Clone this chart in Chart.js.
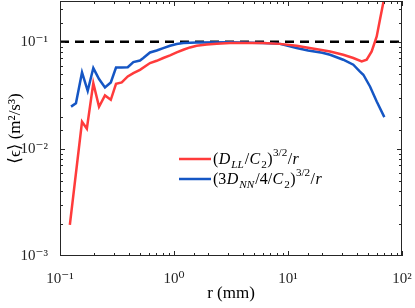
<!DOCTYPE html>
<html>
<head>
<meta charset="utf-8">
<script src="https://cdn.jsdelivr.net/npm/chart.js@4/dist/chart.umd.min.js"></script>
<style>
  html, body { margin: 0; padding: 0; background: #fff; }
  #wrap { width: 415px; height: 308px; position: relative; }
</style>
</head>
<body>
<div id="wrap"><canvas id="myChart"></canvas></div>
<script>
// r (mm) and <eps>
const rLL = [0.122, 0.156, 0.172, 0.196, 0.220, 0.248, 0.279, 0.310, 0.348, 0.393, 0.44, 0.503,
    0.616, 0.705, 0.805, 0.923, 1.056, 1.207, 1.38, 1.58, 1.94, 2.37, 3.1, 4.5, 6.0, 8.5,
    11.9, 15, 19.1, 23.4, 30.5, 37.4, 44.3, 49, 54.2, 60, 64.1, 71];
const epsLL = [0.00195, 0.0179, 0.0154, 0.0411, 0.0247, 0.0315, 0.0287, 0.0405, 0.0417, 0.0474, 0.051, 0.0547,
    0.0632, 0.0664, 0.0705, 0.0745, 0.0794, 0.0842, 0.0885, 0.0918, 0.0944, 0.0958, 0.0972, 0.0975, 0.0972, 0.0955,
    0.0918, 0.088, 0.0842, 0.0812, 0.0756, 0.0705, 0.0655, 0.0679, 0.0812, 0.112, 0.161, 0.28];

const rNN = [0.125, 0.138, 0.156, 0.175, 0.196, 0.220, 0.248, 0.279, 0.310, 0.348, 0.393, 0.44, 0.503,
    0.538, 0.616, 0.705, 0.805, 0.923, 1.056, 1.207, 1.58, 3.1, 6.0, 8.5,
    11.9, 15, 20, 23.4, 30.5, 37.4, 42.8, 45.8, 52.4, 60, 70];
const epsNN = [0.0248, 0.0267, 0.0517, 0.0348, 0.0568, 0.0448, 0.0374, 0.0417, 0.0575, 0.0575, 0.0578, 0.0646, 0.0668,
    0.0705, 0.0794, 0.0829, 0.0873, 0.0918, 0.0952, 0.0972, 0.0985, 0.0988, 0.0975, 0.0955,
    0.0873, 0.083, 0.079, 0.0756, 0.0679, 0.061, 0.0527, 0.0492, 0.0382, 0.0277, 0.0198];

const refLevel = 0.1;
const xRange = [0.1, 100];
const yRange = [0.001, 0.24];

const SERIF = "'Liberation Serif', 'DejaVu Serif', serif";
const supMap = {'-': '\u207B', '0': '\u2070', '1': '\u00B9', '2': '\u00B2', '3': '\u00B3'};

function powLabel(value) {
    const e = Math.log10(value);
    const n = Math.round(e);
    if (Math.abs(e - n) > 1e-6) return '';
    return '10' + String(n).split('').map(c => supMap[c] || c).join('');
}

function toPoints(xs, ys) {
    return xs.map((x, i) => ({x: x, y: ys[i]}));
}

// box with inward ticks, MATLAB style
const boxTicks = {
    id: 'boxTicks',
    afterDraw(chart) {
        const {ctx, chartArea: a, scales} = chart;
        ctx.save();
        ctx.strokeStyle = '#262626';
        ctx.lineWidth = 1;
        ctx.strokeRect(a.left + 0.5, a.top + 0.5, a.right - a.left - 1, a.bottom - a.top - 1);
        for (const t of scales.x.ticks) {
            const px = Math.round(scales.x.getPixelForValue(t.value)) + 0.5;
            const len = powLabel(t.value) ? 5 : 3;
            ctx.beginPath();
            ctx.moveTo(px, a.bottom); ctx.lineTo(px, a.bottom - len);
            ctx.moveTo(px, a.top); ctx.lineTo(px, a.top + len);
            ctx.stroke();
        }
        for (const t of scales.y.ticks) {
            const py = Math.round(scales.y.getPixelForValue(t.value)) + 0.5;
            if (py < a.top || py > a.bottom) continue;
            const len = powLabel(t.value) ? 5 : 3;
            ctx.beginPath();
            ctx.moveTo(a.left, py); ctx.lineTo(a.left + len, py);
            ctx.moveTo(a.right, py); ctx.lineTo(a.right - len, py);
            ctx.stroke();
        }
        ctx.restore();
    }
};

// legend with sub/superscripts
const mathLegend = {
    id: 'mathLegend',
    afterDraw(chart, args, opts) {
        const ctx = chart.ctx;
        const size = opts.fontSize;
        let y = opts.y;
        ctx.save();
        ctx.textBaseline = 'alphabetic';
        for (const ds of chart.data.datasets) {
            if (!ds.mathLabel) continue;
            ctx.strokeStyle = ds.borderColor;
            ctx.lineWidth = ds.borderWidth;
            ctx.beginPath();
            ctx.moveTo(opts.x, y);
            ctx.lineTo(opts.x + opts.lineLen, y);
            ctx.stroke();
            let x = opts.x + opts.lineLen + 2;
            const base = y + size * 0.33;
            ctx.fillStyle = '#000';
            for (const run of ds.mathLabel) {
                const [txt, style] = run;
                let fs = size, dy = 0, ital = false;
                if (style && style.includes('i')) ital = true;
                if (style && style.includes('_')) { fs = size * 0.7; dy = size * 0.25; }
                if (style && style.includes('^')) { fs = size * 0.7; dy = -size * 0.5; }
                ctx.font = (ital ? 'italic ' : '') + fs + 'px ' + SERIF;
                ctx.fillText(txt, x, base + dy);
                x += ctx.measureText(txt).width + (ital ? 1 : 0.4);
            }
            y += opts.rowGap;
        }
        ctx.restore();
    }
};

const ctx = document.getElementById('myChart');
const myChart = new Chart(ctx, {
    type: 'line',
    data: {
        datasets: [
            {
                label: '(D_LL/C_2)^{3/2}/r',
                mathLabel: [['('], ['D', 'i'], ['LL', 'i_'], ['/'], ['C', 'i'], ['2', '_'], [')'], ['3/2', '^'], ['/'], ['r', 'i']],
                data: toPoints(rLL, epsLL),
                borderColor: '#ff3b3b',
                borderWidth: 2.5,
                pointRadius: 0,
                tension: 0
            },
            {
                label: '(3D_NN/4/C_2)^{3/2}/r',
                mathLabel: [['(3'], ['D', 'i'], ['NN', 'i_'], ['/4/'], ['C', 'i'], ['2', '_'], [')'], ['3/2', '^'], ['/'], ['r', 'i']],
                data: toPoints(rNN, epsNN),
                borderColor: '#1556c4',
                borderWidth: 2.5,
                pointRadius: 0,
                tension: 0
            },
            {
                label: 'ref',
                data: toPoints(xRange, [refLevel, refLevel]),
                borderColor: '#000',
                borderWidth: 2.5,
                borderDash: [9, 6],
                pointRadius: 0
            }
        ]
    },
    options: {
        responsive: true,
        maintainAspectRatio: false,
        animation: false,
        layout: { padding: { top: 1, right: 13, left: 0, bottom: 0 } },
        plugins: {
            legend: { display: false },
            tooltip: { enabled: false },
            mathLegend: { x: 179, y: 159, lineLen: 32, rowGap: 20, fontSize: 16 }
        },
        scales: {
            x: {
                type: 'logarithmic',
                min: xRange[0],
                max: xRange[1],
                grid: { display: false },
                border: { display: false },
                afterFit: (s) => { s.height = 52; s.paddingLeft = 0; s.paddingRight = 0; },
                ticks: {
                    autoSkip: false,
                    maxRotation: 0,
                    padding: 6,
                    color: '#262626',
                    font: { family: SERIF, size: 15 },
                    callback: (v) => powLabel(v)
                },
                title: {
                    display: true,
                    text: 'r (mm)',
                    color: '#000',
                    font: { family: SERIF, size: 17 },
                    padding: { top: 0 }
                }
            },
            y: {
                type: 'logarithmic',
                min: yRange[0],
                max: yRange[1],
                grid: { display: false },
                border: { display: false },
                afterFit: (s) => { s.width = 60; s.paddingTop = 0; s.paddingBottom = 0; },
                ticks: {
                    autoSkip: false,
                    padding: 4,
                    color: '#262626',
                    font: { family: SERIF, size: 15 },
                    callback: (v) => powLabel(v)
                },
                title: {
                    display: true,
                    text: '\u27E8\u03F5\u27E9 (m\u00B2/s\u00B3)',
                    color: '#000',
                    font: { family: SERIF, size: 17 },
                    padding: { top: 5, bottom: 0 }
                }
            }
        }
    },
    plugins: [boxTicks, mathLegend]
});
</script>
</body>
</html>
